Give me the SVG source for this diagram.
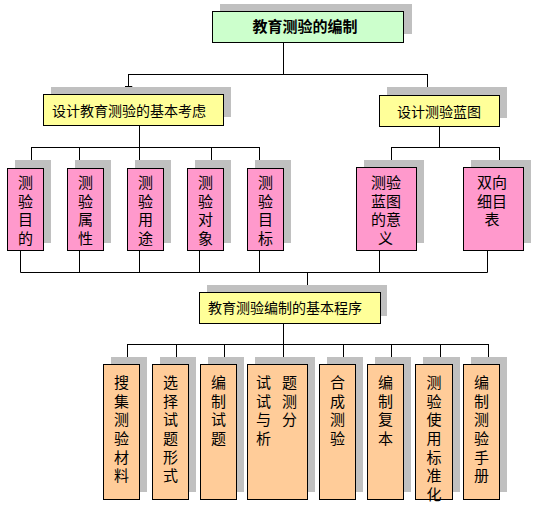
<svg xmlns="http://www.w3.org/2000/svg" width="540" height="512" viewBox="0 0 540 512">
<style>
.sh{fill:#c0c0c0;stroke:none}
.bx{stroke:#000;stroke-width:1}
.g{fill:#ccffcc}.y{fill:#ffff99}.p{fill:#ff99cc}.o{fill:#ffcc99}
text{font-family:"Noto Sans CJK SC","Noto Sans CJK JP",sans-serif;font-size:14px;fill:#000}
.v{font-size:15px;text-anchor:middle}
.vt{font-size:15px;writing-mode:vertical-rl;letter-spacing:3.5px}
.vo{font-size:15px;writing-mode:vertical-rl;letter-spacing:3.6px}
.c{text-anchor:middle}
.ln{stroke:#000;stroke-width:1;fill:none}
.ar{stroke:#000;stroke-width:1;fill:none;marker-end:url(#a)}
</style>
<defs>
<marker id="a" viewBox="0 0 8 8" refX="8" refY="4" markerWidth="8" markerHeight="8" markerUnits="userSpaceOnUse" orient="auto">
<path d="M0,0 L8,4 L0,8 z" fill="#000"/>
</marker>
</defs>
<rect width="540" height="512" fill="#fff"/>
<g id="connectors">
<path class="ln" d="M283.5,42 V74.5 M128.5,74.5 H427.5"/>
<line class="ar" x1="128.5" y1="74" x2="128.5" y2="94"/>
<line class="ar" x1="427.5" y1="74" x2="427.5" y2="95"/>
<path class="ln" d="M139.5,125 V147.5 M31.5,147.5 H259.5"/>
<line class="ar" x1="31.5" y1="147" x2="31.5" y2="168"/>
<line class="ar" x1="79.5" y1="147" x2="79.5" y2="168"/>
<line class="ar" x1="139.5" y1="147" x2="139.5" y2="168"/>
<line class="ar" x1="211.5" y1="147" x2="211.5" y2="168"/>
<line class="ar" x1="259.5" y1="147" x2="259.5" y2="168"/>
<path class="ln" d="M439.5,126 V147.5 M391.5,147.5 H499.5"/>
<line class="ar" x1="391.5" y1="147" x2="391.5" y2="168"/>
<line class="ar" x1="499.5" y1="147" x2="499.5" y2="168"/>
<path class="ln" d="M20.5,251 V272.5 M79.5,251 V272.5 M139.5,251 V272.5 M199.5,251 V272.5 M259.5,251 V272.5 M379.5,251 V272.5 M487.5,251 V272.5 M20.5,272.5 H487.5"/>
<line class="ar" x1="307.5" y1="272" x2="307.5" y2="293"/>
<path class="ln" d="M283.5,323 V344.5 M127.5,344.5 H488.5"/>
<line class="ar" x1="127.5" y1="344" x2="127.5" y2="365"/>
<line class="ar" x1="176.5" y1="344" x2="176.5" y2="365"/>
<line class="ar" x1="224.5" y1="344" x2="224.5" y2="365"/>
<line class="ar" x1="283.5" y1="344" x2="283.5" y2="365"/>
<line class="ar" x1="343.5" y1="344" x2="343.5" y2="365"/>
<line class="ar" x1="391.5" y1="344" x2="391.5" y2="365"/>
<line class="ar" x1="440.5" y1="344" x2="440.5" y2="365"/>
<line class="ar" x1="488.5" y1="344" x2="488.5" y2="365"/>
</g>
<g id="n-root">
<rect class="sh" x="220" y="4" width="192" height="30"/>
<rect class="bx g" x="212.5" y="11.5" width="191" height="31"/>
<text class="c" x="305" y="31.5" style="font-size:15px;font-weight:bold">教育测验的编制</text>
</g>
<g id="n-consider">
<rect class="sh" x="51" y="87" width="180" height="30"/>
<rect class="bx y" x="43.5" y="94.5" width="180" height="31"/>
<text class="c" x="129" y="116">设计教育测验的基本考虑</text>
</g>
<g id="n-blueprint">
<rect class="sh" x="387" y="87" width="120" height="31"/>
<rect class="bx y" x="379.5" y="95.5" width="120" height="31"/>
<text class="c" x="439" y="117">设计测验蓝图</text>
</g>
<g id="n-p1">
<rect class="sh" x="15" y="160" width="36" height="83"/>
<rect class="bx p" x="7.5" y="168.5" width="36" height="82"/>
<text class="vt" x="25.5" y="175">测验目的</text>
</g>
<g id="n-p2">
<rect class="sh" x="75" y="160" width="36" height="83"/>
<rect class="bx p" x="67.5" y="168.5" width="36" height="82"/>
<text class="vt" x="85.5" y="175">测验属性</text>
</g>
<g id="n-p3">
<rect class="sh" x="135" y="160" width="36" height="83"/>
<rect class="bx p" x="127.5" y="168.5" width="36" height="82"/>
<text class="vt" x="145.5" y="175">测验用途</text>
</g>
<g id="n-p4">
<rect class="sh" x="195" y="160" width="36" height="83"/>
<rect class="bx p" x="187.5" y="168.5" width="36" height="82"/>
<text class="vt" x="205.5" y="175">测验对象</text>
</g>
<g id="n-p5">
<rect class="sh" x="255" y="160" width="36" height="83"/>
<rect class="bx p" x="247.5" y="168.5" width="36" height="82"/>
<text class="vt" x="265.5" y="175">测验目标</text>
</g>
<g id="n-p6">
<rect class="sh" x="364" y="160" width="60" height="83"/>
<rect class="bx p" x="356.5" y="167.5" width="60" height="83"/>
<text class="v" x="378.5 393.5 378.5 393.5 378.5 393.5 385.5" y="188 188 206.5 206.5 225 225 243.5">测验蓝图的意义</text>
</g>
<g id="n-p7">
<rect class="sh" x="471" y="160" width="60" height="83"/>
<rect class="bx p" x="463.5" y="167.5" width="60" height="83"/>
<text class="v" x="484.5 499.5 484.5 499.5 492" y="188 188 206.5 206.5 225">双向细目表</text>
</g>
<g id="n-program">
<rect class="sh" x="207" y="285" width="180" height="31"/>
<rect class="bx y" x="199.5" y="292.5" width="181" height="31"/>
<text class="c" x="285" y="313">教育测验编制的基本程序</text>
</g>
<g id="n-o1">
<rect class="sh" x="111" y="357" width="36" height="135"/>
<rect class="bx o" x="103.5" y="364.5" width="36" height="135"/>
<text class="vo" x="121.5" y="375">搜集测验材料</text>
</g>
<g id="n-o2">
<rect class="sh" x="160" y="357" width="36" height="135"/>
<rect class="bx o" x="152.5" y="364.5" width="36" height="135"/>
<text class="vo" x="170.5" y="375">选择试题形式</text>
</g>
<g id="n-o3">
<rect class="sh" x="208" y="357" width="36" height="135"/>
<rect class="bx o" x="200.5" y="364.5" width="36" height="135"/>
<text class="vo" x="218.5" y="375">编制试题</text>
</g>
<g id="n-o4">
<rect class="sh" x="255" y="357" width="60" height="135"/>
<rect class="bx o" x="247.5" y="364.5" width="60" height="135"/>
<text class="vo" x="263.5" y="375">试试与析</text>
<text class="vo" x="289.5" y="375">题测分</text>
</g>
<g id="n-o5">
<rect class="sh" x="327" y="357" width="36" height="135"/>
<rect class="bx o" x="319.5" y="364.5" width="36" height="135"/>
<text class="vo" x="337.5" y="375">合成测验</text>
</g>
<g id="n-o6">
<rect class="sh" x="375" y="357" width="36" height="135"/>
<rect class="bx o" x="367.5" y="364.5" width="36" height="135"/>
<text class="vo" x="385.5" y="375">编制复本</text>
</g>
<g id="n-o7">
<rect class="sh" x="423" y="357" width="37" height="135"/>
<rect class="bx o" x="415.5" y="364.5" width="37" height="135"/>
<text class="vo" x="434" y="375">测验使用标准化</text>
</g>
<g id="n-o8">
<rect class="sh" x="471" y="357" width="36" height="135"/>
<rect class="bx o" x="463.5" y="364.5" width="36" height="135"/>
<text class="vo" x="481.5" y="375">编制测验手册</text>
</g>
</svg>
